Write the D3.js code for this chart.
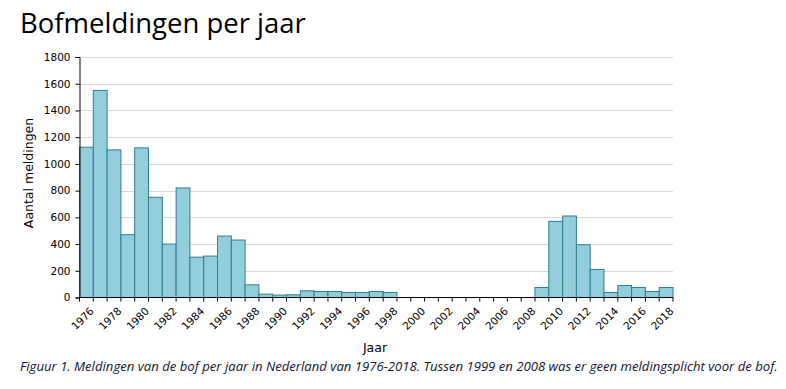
<!DOCTYPE html>
<html lang="nl">
<head>
<meta charset="UTF-8">
<title>Bofmeldingen per jaar</title>
<script src="https://d3js.org/d3.v7.min.js"></script>
<style>
  body { margin: 0; background: #fff; }
  svg { display: block; }
  .title { font-family: "Open Sans", sans-serif; font-size: 27.5px; fill: #000; }
  .axis text { font-family: "DejaVu Sans", Verdana, sans-serif; font-size: 10.5px; fill: #000; }
  .axlabel { font-family: "DejaVu Sans", Verdana, sans-serif; font-size: 12.5px; fill: #000; }
  .caption { font-family: "Open Sans", sans-serif; font-style: italic; font-size: 13.5px; fill: #14142e; }
</style>
</head>
<body>
<svg width="786" height="389"></svg>
<script>
// meldingen per jaar (1999-2008 geen meldingsplicht)
const years = d3.range(1976, 2019);
const counts = [
  1125, 1550, 1105, 470, 1120, 750, 400, 820, 302, 310,
  460, 430, 95, 25, 18, 20, 50, 45, 45, 38,
  38, 45, 38, 0, 0, 0, 0, 0, 0, 0,
  0, 0, 0, 75, 570, 610, 395, 210, 38, 90,
  75, 45, 75
];
const yTicks = [0, 200, 400, 600, 800, 1000, 1200, 1400, 1600, 1800];
const xLabelYears = years.filter(y => (y - 1976) % 2 === 0);

const svg = d3.select("svg");
const plotL = 79.5, plotR = 673, plotT = 57, plotB = 297.5;

const x = d3.scaleBand().domain(years).range([plotL, plotR]).padding(0);
const y = d3.scaleLinear().domain([0, 1800]).range([plotB, plotT]);

svg.append("text").attr("class", "title")
  .attr("x", 20).attr("y", 33)
  .text("Bofmeldingen per jaar");

// rasterlijnen
svg.append("g")
  .selectAll("line")
  .data(yTicks.slice(1))
  .join("line")
  .attr("x1", plotL).attr("x2", plotR)
  .attr("y1", d => Math.round(y(d)) + 0.5).attr("y2", d => Math.round(y(d)) + 0.5)
  .attr("stroke", "#d9d9d9");

// staven
svg.append("g")
  .selectAll("rect")
  .data(years.map((yr, i) => ({ yr, n: counts[i] })).filter(d => d.n > 0))
  .join("rect")
  .attr("x", d => x(d.yr))
  .attr("y", d => y(d.n))
  .attr("width", x.bandwidth())
  .attr("height", d => y(0) - y(d.n))
  .attr("fill", "#92cddc")
  .attr("stroke", "#2f7d8f")
  .attr("stroke-width", 1);

// y-as
const yAxis = svg.append("g").attr("class", "axis")
  .attr("transform", `translate(${plotL},0)`)
  .call(d3.axisLeft(y).tickValues(yTicks).tickFormat(d3.format("d")).tickSize(4).tickPadding(5));
yAxis.select(".domain").attr("stroke", "#000");

// x-as: streepjes op elke jaargrens
const xAxis = svg.append("g").attr("class", "axis")
  .attr("transform", `translate(0,${plotB})`);
xAxis.append("line")
  .attr("x1", plotL).attr("x2", plotR)
  .attr("stroke", "#000");
xAxis.selectAll("line.tick")
  .data(years.concat([2019]))
  .join("line")
  .attr("class", "tick")
  .attr("x1", d => d === 2019 ? plotR : x(d)).attr("x2", d => d === 2019 ? plotR : x(d))
  .attr("y1", 0).attr("y2", 4)
  .attr("stroke", "#000");
xAxis.selectAll("text")
  .data(xLabelYears)
  .join("text")
  .attr("transform", d => `translate(${x(d) + x.bandwidth() / 2 + 3},${9}) rotate(-45)`)
  .attr("text-anchor", "end")
  .attr("dy", "0.7em")
  .text(d => d);

svg.append("text").attr("class", "axlabel")
  .attr("transform", `translate(33,173) rotate(-90)`)
  .attr("text-anchor", "middle")
  .text("Aantal meldingen");

svg.append("text").attr("class", "axlabel")
  .attr("x", 375).attr("y", 352)
  .attr("text-anchor", "middle")
  .text("Jaar");

// bijschrift, horizontaal samengedrukt zoals het smalle origineel
const cap = svg.append("text").attr("class", "caption")
  .text("Figuur 1. Meldingen van de bof per jaar in Nederland van 1976-2018. Tussen 1999 en 2008 was er geen meldingsplicht voor de bof.");
const capW = cap.node().getComputedTextLength();
cap.attr("transform", `translate(20,371) scale(${758 / capW},1)`);
</script>
</body>
</html>
